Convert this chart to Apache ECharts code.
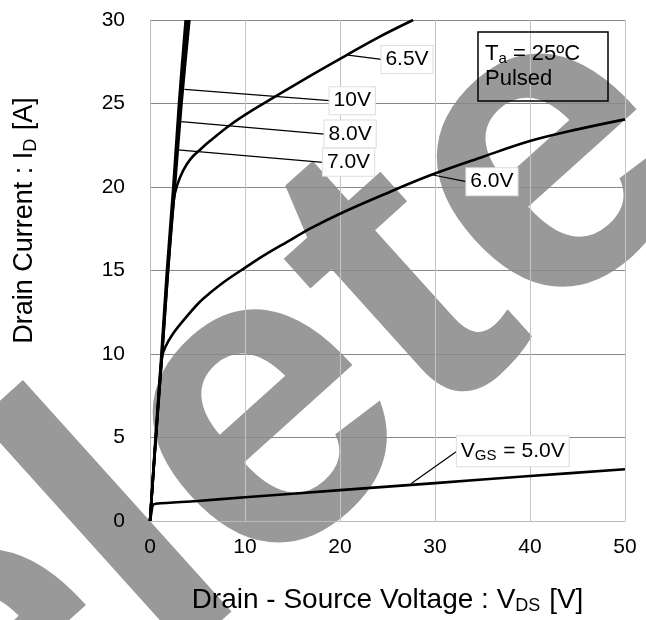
<!DOCTYPE html>
<html>
<head>
<meta charset="utf-8">
<script src="https://cdn.jsdelivr.net/npm/echarts@6/dist/echarts.min.js"></script>
<style>
  html, body { margin: 0; padding: 0; background: #fff; }
  #chart1 { width: 646px; height: 620px; }
</style>
</head>
<body>
<div id="chart1"></div>
<script>
// curves: [VDS (V), ID (A)]
var vgs10 = [[0,0],[0.58,5],[1.2,10],[1.78,15],[2.45,20],[3.05,25],[3.75,30]];
var vgs8  = [[0,0],[0.6,5],[1.25,10],[1.85,15],[2.55,20],[3.2,25],[3.95,30]];
var vgs7  = [[0,0],[0.62,5],[1.28,10],[1.9,15],[2.62,20],[3.32,25],[4.15,30]];
var vgs65 = [[0,0],[0.62,5],[1.28,10],[1.9,15],[2.5,19.2],[2.85,20.1],[3.5,21.0],[4.3,21.7],[5.3,22.25],[6.3,22.75],
             [8.4,23.7],[10.5,24.5],[13.3,25.45],[17,26.7],[20.7,27.9],[24,28.95],[27.7,30]];
var vgs6  = [[0,0],[0.62,5],[1.22,9.7],[1.6,10.4],[2.4,11.2],[3.5,12.0],[5.2,13.1],[6.3,13.65],[8,14.4],[10.1,15.2],
             [12,15.9],[14.4,16.7],[17,17.55],[20,18.4],[24.6,19.55],[29.5,20.7],[35,21.8],[40,22.75],[45,23.45],[50,24.05]];
var vgs5  = [[0,0],[0.15,0.5],[0.3,0.95],[0.6,1.03],[5,1.2],[10,1.42],[20,1.85],[30,2.27],[40,2.69],[50,3.1]];

// curve labels with their leader lines
var labelText   = ['6.5V', '10V', '8.0V', '7.0V', '6.0V', '{a|V}{s|GS}{a| = 5.0V}'];
var leaderStart = [[20.85,27.9],[3.63,25.85],[3.28,23.91],[2.93,22.22],[29.8,20.72],[27.5,2.25]];
var leaderEnd   = [[24.36,27.64],[18.9,25.17],[18.37,23.17],[18.2,21.48],[33.3,20.32],[32.3,4.18]];

var xTicks = { min: 0, max: 50, interval: 10 };
var yTicks = { min: 0, max: 30, interval: 5 };

var font = 'Liberation Sans';
var myChart1 = echarts.init(document.getElementById('chart1'));

var curves = [vgs5, vgs6, vgs65, vgs7, vgs8, vgs10];
var series = [];
curves.forEach(function (d) {
    series.push({
        type: 'line',
        data: d,
        showSymbol: false,
        smooth: 0.35,
        lineStyle: { color: '#000', width: 2.6 },
        z: 3
    });
});
labelText.forEach(function (t, i) {
    series.push({
        type: 'line',
        data: [leaderStart[i], leaderEnd[i]],
        symbol: 'none',
        lineStyle: { color: '#000', width: 1.2 },
        z: 4,
        endLabel: {
            show: true,
            formatter: t,
            distance: 0,
            color: '#000',
            fontFamily: font,
            fontSize: 21,
            backgroundColor: '#fff',
            borderColor: '#ddd',
            borderWidth: 1,
            padding: [3, 4, 3, 4],
            rich: {
                a: { fontFamily: font, fontSize: 21, color: '#000', lineHeight: 24 },
                s: { fontFamily: font, fontSize: 15, color: '#000', lineHeight: 24, verticalAlign: 'bottom', padding: [6, 1, 0, 0] }
            }
        }
    });
});

var option = {
    animation: false,
    grid: { left: 150, right: 21, top: 20, bottom: 98 },
    title: {
        text: 'T{s|a} = 25ºC\nPulsed',
        left: 478, top: 32,
        borderColor: '#000', borderWidth: 1.5,
        padding: [9, 28, 10, 7],
        textStyle: {
            fontFamily: font, fontSize: 22, fontWeight: 'normal', color: '#000', lineHeight: 25,
            rich: {
                s: { fontFamily: font, fontSize: 15, color: '#000', verticalAlign: 'bottom', padding: [9, 0, 0, 0] }
            }
        },
        z: 5
    },
    graphic: {
        elements: [{
            type: 'text', z: -100, silent: true,
            x: 157, y: 519, rotation: 42 * Math.PI / 180,
            style: { text: 'Delete', fontFamily: font, fontWeight: 'bold', fontSize: 430,
                     fill: '#999', align: 'center', verticalAlign: 'middle' }
        }]
    },
    xAxis: {
        type: 'value', min: xTicks.min, max: xTicks.max, interval: xTicks.interval,
        name: '{a|Drain - Source Voltage : V}{s|DS}{a| [V]}',
        nameLocation: 'middle', nameGap: 64,
        nameTextStyle: {
            rich: {
                a: { fontFamily: font, fontSize: 28, color: '#000', lineHeight: 30 },
                s: { fontFamily: font, fontSize: 18, color: '#000', lineHeight: 30, verticalAlign: 'bottom', padding: [8, 1, 0, 0] }
            }
        },
        axisLine: { lineStyle: { color: '#bbb' } },
        axisTick: { show: false },
        axisLabel: { color: '#000', fontFamily: font, fontSize: 21, margin: 16 },
        splitLine: { lineStyle: { color: '#c4c4c4', width: 1 } }
    },
    yAxis: {
        type: 'value', min: yTicks.min, max: yTicks.max, interval: yTicks.interval,
        name: '{a|Drain Current : I}{s|D}{a| [A]}',
        nameLocation: 'middle', nameGap: 110,
        nameTextStyle: {
            padding: [0, 0, 0, 100],
            rich: {
                a: { fontFamily: font, fontSize: 27, color: '#000', lineHeight: 30 },
                s: { fontFamily: font, fontSize: 18, color: '#000', lineHeight: 30, verticalAlign: 'bottom', padding: [8, 1, 0, 0] }
            }
        },
        axisLine: { lineStyle: { color: '#bbb' } },
        axisTick: { show: false },
        axisLabel: { color: '#000', fontFamily: font, fontSize: 21, margin: 25 },
        splitLine: { lineStyle: { color: '#888', width: 1 } }
    },
    series: series
};
myChart1.setOption(option);
</script>
</body>
</html>
